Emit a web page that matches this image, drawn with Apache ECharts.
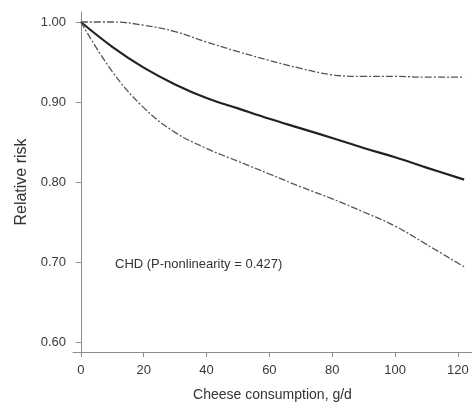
<!DOCTYPE html>
<html>
<head>
<meta charset="utf-8">
<script src="https://cdn.jsdelivr.net/npm/echarts@6/dist/echarts.min.js"></script>
<style>
  html, body { margin: 0; padding: 0; background: #fff; }
  #main { width: 472px; height: 407px; }
</style>
</head>
<body>
<div id="main"></div>
<script>
// 剂量反应数据
var cheese = [0, 10, 20, 30, 40, 50, 60, 70, 80, 90, 100, 110, 122];
var rrMain = [1.0, 0.969, 0.943, 0.922, 0.905, 0.892, 0.879, 0.867, 0.855, 0.8425, 0.831, 0.818, 0.803];
var rrLower = [1.0, 0.938, 0.893, 0.862, 0.842, 0.826, 0.81, 0.794, 0.779, 0.7625, 0.745, 0.722, 0.694];
var rrUpper = [1.0, 1.0, 0.996, 0.988, 0.975, 0.963, 0.952, 0.942, 0.934, 0.932, 0.932, 0.931, 0.931];

var xTicks = [0, 20, 40, 60, 80, 100, 120];
var yTicks = [0.6, 0.7, 0.8, 0.9, 1.0];

function pairs(xs, ys) {
	var out = [];
	for (var i = 0; i < xs.length; i++) {
		out.push([xs[i], ys[i]]);
	}
	return out;
}

var axisColor = '#8c8c8c';
var labelColor = '#3a3a3a';
var dashDot = [7, 2, 2, 2];

var option = {
	backgroundColor: '#fff',
	animation: false,
	grid: {
		left: 73,
		right: 0,
		top: 12,
		bottom: 55
	},
	xAxis: {
		type: 'value',
		min: -2.5,
		max: 124.5,
		name: 'Cheese consumption, g/d',
		nameLocation: 'middle',
		nameGap: 36,
		nameTextStyle: { fontFamily: 'Liberation Sans', fontSize: 14, color: '#333' },
		axisLine: { show: true, lineStyle: { color: axisColor, width: 1 } },
		axisTick: { show: true, length: 5, customValues: xTicks, lineStyle: { color: axisColor } },
		axisLabel: { customValues: xTicks, margin: 12, fontFamily: 'Liberation Sans', fontSize: 13, color: labelColor },
		splitLine: { show: false }
	},
	yAxis: {
		type: 'value',
		min: 0.5875,
		max: 1.0125,
		name: 'Relative risk',
		nameLocation: 'middle',
		nameGap: 42,
		nameTextStyle: { fontFamily: 'Liberation Sans', fontSize: 16, color: '#333' },
		axisLine: { show: true, lineStyle: { color: axisColor, width: 1 } },
		axisTick: { show: true, length: 5, customValues: yTicks, lineStyle: { color: axisColor } },
		axisLabel: {
			customValues: yTicks,
			margin: 7,
			fontFamily: 'Liberation Sans',
			fontSize: 13,
			color: labelColor,
			formatter: function (v) { return v.toFixed(2); }
		},
		splitLine: { show: false }
	},
	graphic: [{
		type: 'text',
		left: 115,
		top: 258,
		style: {
			text: 'CHD (P-nonlinearity = 0.427)',
			font: '13px "Liberation Sans"',
			fill: '#333'
		}
	}],
	series: [{
		name: 'RR',
		type: 'line',
		data: pairs(cheese, rrMain),
		smooth: 0.4,
		showSymbol: false,
		lineStyle: { color: '#222', width: 2.2 }
	}, {
		name: 'lower',
		type: 'line',
		data: pairs(cheese, rrLower),
		smooth: 0.4,
		showSymbol: false,
		lineStyle: { color: '#555', width: 1.3, type: dashDot }
	}, {
		name: 'upper',
		type: 'line',
		data: pairs(cheese, rrUpper),
		smooth: 0.4,
		showSymbol: false,
		lineStyle: { color: '#555', width: 1.3, type: dashDot }
	}]
};

var riskChart = echarts.init(document.getElementById('main'));
riskChart.setOption(option);
</script>
</body>
</html>
